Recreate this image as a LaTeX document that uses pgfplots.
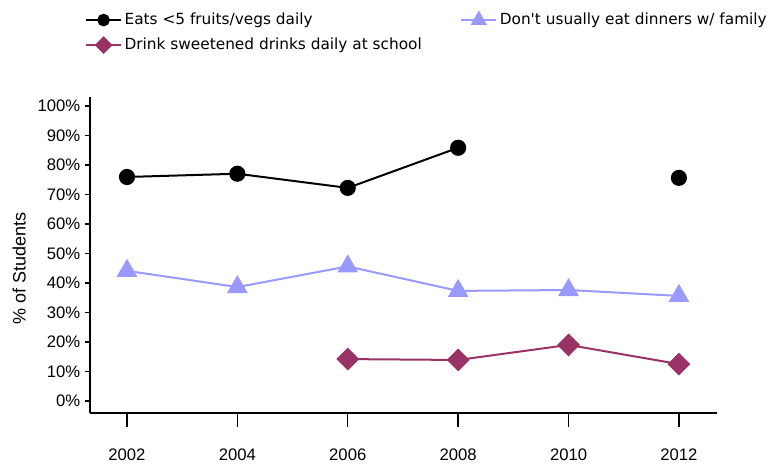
\documentclass[border=0pt]{standalone}
\usepackage{fontspec}
\setmainfont{Liberation Sans}
\newfontfamily\legfont{DejaVu Sans}
\usepackage{pgfplots}
\pgfplotsset{compat=1.18}
\definecolor{lav}{HTML}{9999FF}
\definecolor{plum}{HTML}{993366}
\definecolor{gridc}{HTML}{E2E2E2}
\begin{document}
\begin{tikzpicture}
\useasboundingbox (0,0) rectangle (585pt,348pt);
\begin{axis}[
  at={(67.5pt,38.25pt)}, anchor=south west,
  scale only axis, width=470.25pt, height=237pt,
  xmin=2001.33, xmax=2012.69, ymin=-4.07, ymax=103,
  axis x line*=bottom, axis y line=none,
  axis line style={line width=1.1pt, -},
  xtick={2002,2004,2006,2008,2010,2012},
  xticklabels={2002,2004,2006,2008,2010,2012},
  ytick={0,10,...,100},
  yticklabels={},
  ymajorgrids, grid style={gridc, line width=1pt},
  tick align=outside, major tick length=10.5pt,
  tick style={black, line width=1.1pt},
  xticklabel style={font=\fontsize{12.5}{14}\selectfont, yshift=-13pt},
  unbounded coords=jump,
  legend style={at={(axis description cs:-0.008,1.278)}, anchor=north west,
    draw=none, fill=none, inner sep=0pt, row sep=2.75pt,
    font=\legfont\fontsize{11.5}{13}\selectfont,
    nodes={text height=9pt, text depth=3pt, inner sep=2pt},
    /tikz/every even column/.append style={column sep=27pt}},
  legend columns=2, legend cell align=left,
  legend image code/.code={\draw[mark repeat=2,mark phase=2,#1,every mark/.append style={scale=0.75}] plot coordinates {(0pt,0pt)(13pt,0pt)(26pt,0pt)};},
]
\addplot[black, line width=1.5pt, mark=*, mark size=5.3pt, mark options={solid}]
  coordinates {(2002,75.9)(2004,77.0)(2006,72.2)(2008,85.8)(2010,nan)(2012,75.6)};
\addlegendentry{Eats <5 fruits/vegs daily}
\addplot[lav, line width=1.5pt, mark=triangle*, mark size=7.5pt, mark options={solid}]
  coordinates {(2002,44.1)(2004,38.6)(2006,45.6)(2008,37.3)(2010,37.6)(2012,35.6)};
\addlegendentry{Don\textquotesingle t usually eat dinners w/ family}
\addplot[plum, line width=1.5pt, mark=square*, mark size=5.3pt, mark options={solid, rotate=45}]
  coordinates {(2006,14.2)(2008,13.9)(2010,19.0)(2012,12.5)};
\addlegendentry{Drink sweetened drinks daily at school}
\end{axis}
\begin{axis}[
  at={(67.5pt,38.25pt)}, anchor=south west,
  scale only axis, width=470.25pt, height=237pt,
  xmin=2001.33, xmax=2012.69, ymin=-4.07, ymax=103,
  axis y line*=left, axis x line=none,
  axis line style={line width=1.1pt, -},
  ytick={0,10,...,100},
  yticklabels={0\%,10\%,20\%,30\%,40\%,50\%,60\%,70\%,80\%,90\%,100\%},
  tick align=outside, major tick length=3.75pt,
  tick style={black, line width=1.1pt},
  yticklabel style={font=\fontsize{12.5}{14}\selectfont},
  ylabel={\% of Students},
  ylabel style={font=\fontsize{13.5}{15}\selectfont, at={(axis description cs:-0.113,0.456)}, anchor=center},
]
\end{axis}
\end{tikzpicture}
\end{document}
